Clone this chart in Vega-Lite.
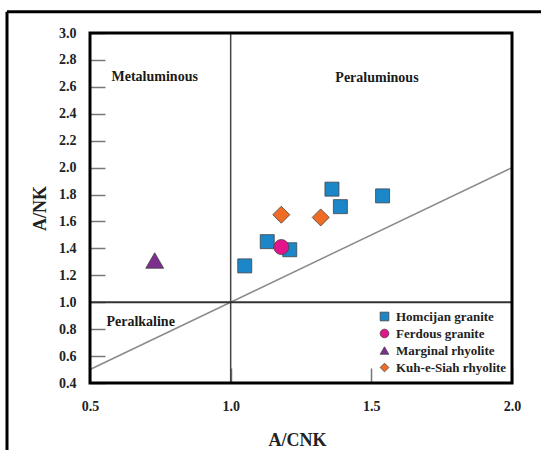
{
  "$schema": "https://vega.github.io/schema/vega-lite/v6.json",
  "width": 422,
  "height": 350,
  "autosize": "none",
  "padding": {"left": 90, "top": 33, "right": 29, "bottom": 67},
  "background": "white",
  "config": {
    "view": {"stroke": null},
    "font": "Liberation Serif",
    "axisX": {
      "domain": false, "grid": false, "tickSize": -15, "tickColor": "#777777", "tickWidth": 1.5,
      "labelPadding": 31, "labelOverlap": false, "labelFont": "Liberation Serif", "labelFontWeight": "bold",
      "labelFontSize": 14, "labelColor": "#222222", "labelFlush": false,
      "titleFont": "Liberation Serif", "titleFontWeight": "bold", "titleFontSize": 18, "titleColor": "#222222",
      "titleX": 207, "titleY": 57, "titleBaseline": "middle"
    },
    "axisY": {
      "domain": false, "grid": false, "tickSize": -15, "tickColor": "#777777", "tickWidth": 1.5,
      "labelPadding": 29, "labelOverlap": false, "labelFont": "Liberation Serif", "labelFontWeight": "bold",
      "labelFontSize": 14, "labelColor": "#222222", "labelFlush": false,
      "titleFont": "Liberation Serif", "titleFontWeight": "bold", "titleFontSize": 18, "titleColor": "#222222",
      "titleX": -50, "titleY": 175, "titleBaseline": "middle"
    },
    "legend": {
      "orient": "none", "legendX": 288, "legendY": 277, "padding": 0, "rowPadding": 3, "symbolSize": 75,
      "symbolStrokeColor": "#444444", "symbolStrokeWidth": 0.8,
      "labelFont": "Liberation Serif", "labelFontWeight": "bold", "labelFontSize": 13, "labelColor": "#222222",
      "labelOffset": 5
    }
  },
  "datasets": {
    "samples": [
      {"acnk": 1.05, "ank": 1.27, "series": "Homcijan granite"},
      {"acnk": 1.13, "ank": 1.45, "series": "Homcijan granite"},
      {"acnk": 1.21, "ank": 1.39, "series": "Homcijan granite"},
      {"acnk": 1.36, "ank": 1.84, "series": "Homcijan granite"},
      {"acnk": 1.39, "ank": 1.71, "series": "Homcijan granite"},
      {"acnk": 1.54, "ank": 1.79, "series": "Homcijan granite"},
      {"acnk": 1.18, "ank": 1.41, "series": "Ferdous granite"},
      {"acnk": 0.73, "ank": 1.31, "series": "Marginal rhyolite"},
      {"acnk": 1.18, "ank": 1.65, "series": "Kuh-e-Siah rhyolite"},
      {"acnk": 1.32, "ank": 1.63, "series": "Kuh-e-Siah rhyolite"}
    ],
    "regions": [
      {"acnk": 0.73, "ank": 2.67, "label": "Metaluminous"},
      {"acnk": 1.52, "ank": 2.665, "label": "Peraluminous"},
      {"acnk": 0.68, "ank": 0.855, "label": "Peralkaline"}
    ]
  },
  "encoding": {
    "x": {
      "field": "acnk", "type": "quantitative",
      "scale": {"domain": [0.5, 2.0], "nice": false, "zero": false},
      "axis": {"title": "A/CNK", "values": [0.5, 1.0, 1.5, 2.0], "format": ".1f"}
    },
    "y": {
      "field": "ank", "type": "quantitative",
      "scale": {"domain": [0.4, 3.0], "nice": false, "zero": false},
      "axis": {"title": "A/NK", "values": [0.4, 0.6, 0.8, 1.0, 1.2, 1.4, 1.6, 1.8, 2.0, 2.2, 2.4, 2.6, 2.8, 3.0], "format": ".1f"}
    }
  },
  "layer": [
    {
      "data": {"values": [{"acnk": 0.205, "ank": 3.158, "ank2": -0.1}]},
      "mark": {"type": "rule", "color": "black", "strokeWidth": 3, "clip": false},
      "encoding": {"y2": {"field": "ank2"}}
    },
    {
      "data": {"values": [{"acnk": 0.205, "acnk2": 2.11, "ank": 3.158}]},
      "mark": {"type": "rule", "color": "black", "strokeWidth": 3, "clip": false},
      "encoding": {"x2": {"field": "acnk2"}}
    },
    {
      "data": {"values": [{"acnk": 0.5, "ank": 0.5, "acnk2": 2.0, "ank2": 2.0}]},
      "mark": {"type": "rule", "color": "#8a8a8a", "strokeWidth": 1.5},
      "encoding": {"x2": {"field": "acnk2"}, "y2": {"field": "ank2"}}
    },
    {
      "data": {"values": [{"acnk": 1.0, "ank": 0.4, "acnk2": 1.0, "ank2": 3.0}]},
      "mark": {"type": "rule", "color": "#444444", "strokeWidth": 1.5},
      "encoding": {"x2": {"field": "acnk2"}, "y2": {"field": "ank2"}}
    },
    {
      "data": {"values": [{"acnk": 0.5, "ank": 1.0, "acnk2": 2.0, "ank2": 1.0}]},
      "mark": {"type": "rule", "color": "#333333", "strokeWidth": 2},
      "encoding": {"x2": {"field": "acnk2"}, "y2": {"field": "ank2"}}
    },
    {
      "data": {"values": [{"acnk": 0.5, "ank": 0.4, "acnk2": 2.0, "ank2": 3.0}]},
      "mark": {"type": "rect", "fillOpacity": 0, "fill": "white", "stroke": "black", "strokeWidth": 3},
      "encoding": {"x2": {"field": "acnk2"}, "y2": {"field": "ank2"}}
    },
    {
      "data": {"name": "regions"},
      "mark": {"type": "text", "font": "Liberation Serif", "fontWeight": "bold", "fontSize": 14, "color": "#1a1a1a", "baseline": "middle", "align": "center"},
      "encoding": {"text": {"field": "label"}}
    },
    {
      "data": {"name": "samples"},
      "transform": [{"filter": "datum.series === 'Homcijan granite'"}],
      "mark": {"type": "point", "filled": true, "stroke": "#444444", "strokeWidth": 0.8, "opacity": 1, "size": 196},
      "encoding": {
        "color": {"field": "series", "type": "nominal", "title": null,
          "scale": {"domain": ["Homcijan granite", "Ferdous granite", "Marginal rhyolite", "Kuh-e-Siah rhyolite"], "range": ["#1b87c9", "#e4148c", "#7e2f8e", "#f06b23"]}},
        "shape": {"field": "series", "type": "nominal", "title": null,
          "scale": {"domain": ["Homcijan granite", "Ferdous granite", "Marginal rhyolite", "Kuh-e-Siah rhyolite"], "range": ["square", "circle", "triangle-up", "diamond"]}}
      }
    },
    {
      "data": {"name": "samples"},
      "transform": [{"filter": "datum.series === 'Ferdous granite'"}],
      "mark": {"type": "point", "filled": true, "stroke": "#444444", "strokeWidth": 0.8, "opacity": 1, "size": 225},
      "encoding": {
        "color": {"field": "series", "type": "nominal", "title": null},
        "shape": {"field": "series", "type": "nominal", "title": null}
      }
    },
    {
      "data": {"name": "samples"},
      "transform": [{"filter": "datum.series === 'Marginal rhyolite'"}],
      "mark": {"type": "point", "filled": true, "stroke": "#444444", "strokeWidth": 0.8, "opacity": 1, "size": 320},
      "encoding": {
        "color": {"field": "series", "type": "nominal", "title": null},
        "shape": {"field": "series", "type": "nominal", "title": null}
      }
    },
    {
      "data": {"name": "samples"},
      "transform": [{"filter": "datum.series === 'Kuh-e-Siah rhyolite'"}],
      "mark": {"type": "point", "filled": true, "stroke": "#444444", "strokeWidth": 0.8, "opacity": 1, "size": 290},
      "encoding": {
        "color": {"field": "series", "type": "nominal", "title": null},
        "shape": {"field": "series", "type": "nominal", "title": null}
      }
    }
  ]
}
